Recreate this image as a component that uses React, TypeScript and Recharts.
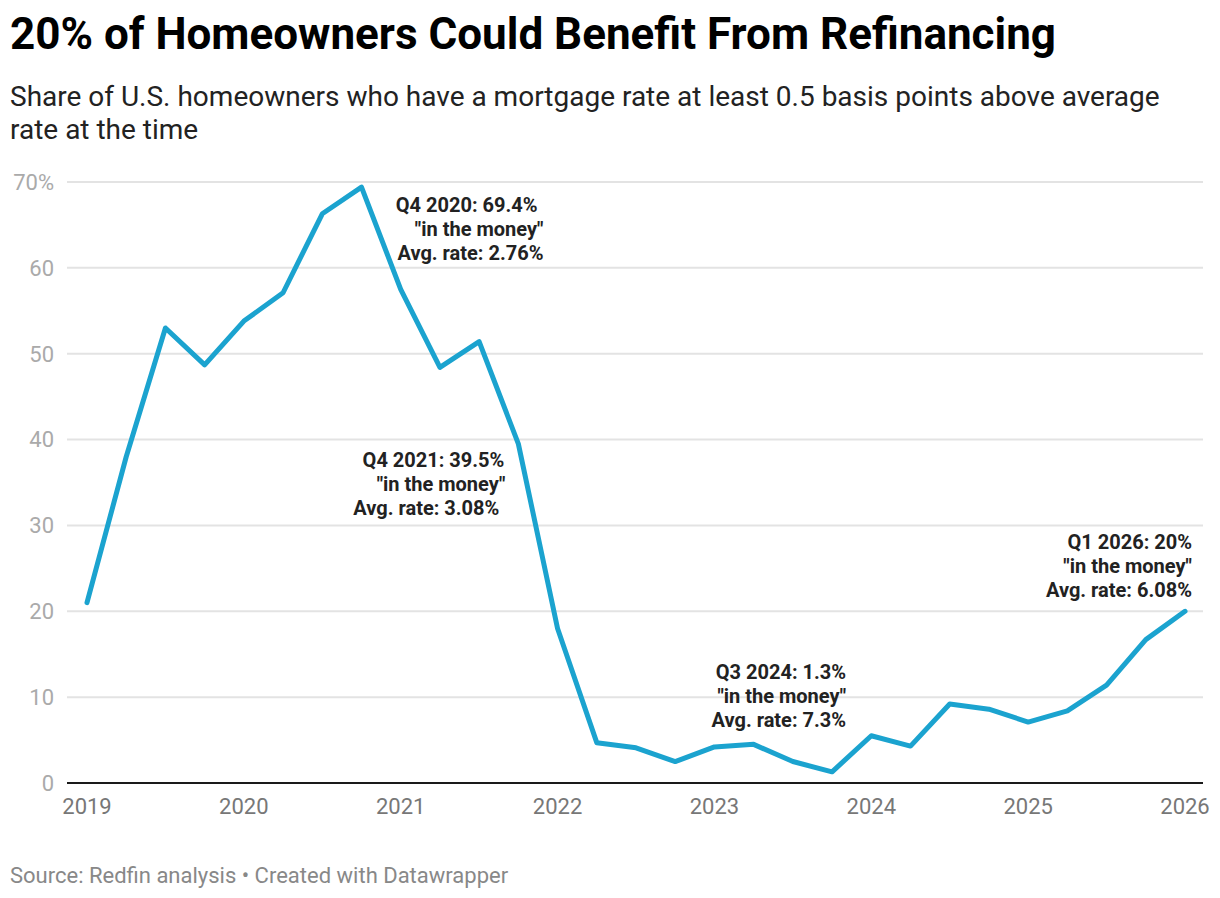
import React from 'react'
import {
  LineChart,
  Line,
  XAxis,
  YAxis,
  CartesianGrid,
  ReferenceDot,
} from 'recharts'

// quarterly share of homeowners "in the money" (%)
const quarters = [
  'Q1 2019', 'Q2 2019', 'Q3 2019', 'Q4 2019',
  'Q1 2020', 'Q2 2020', 'Q3 2020', 'Q4 2020',
  'Q1 2021', 'Q2 2021', 'Q3 2021', 'Q4 2021',
  'Q1 2022', 'Q2 2022', 'Q3 2022', 'Q4 2022',
  'Q1 2023', 'Q2 2023', 'Q3 2023', 'Q4 2023',
  'Q1 2024', 'Q2 2024', 'Q3 2024', 'Q4 2024',
  'Q1 2025', 'Q2 2025', 'Q3 2025', 'Q4 2025',
  'Q1 2026',
]
const shares = [
  21.0, 38.0, 53.0, 48.7,
  53.8, 57.1, 66.3, 69.4,
  57.5, 48.4, 51.4, 39.5,
  18.0, 4.7, 4.1, 2.5,
  4.2, 4.5, 2.5, 1.3,
  5.5, 4.3, 9.2, 8.6,
  7.1, 8.4, 11.4, 16.7,
  20.0,
]
const yearTicks = [2019, 2020, 2021, 2022, 2023, 2024, 2025, 2026]
const shareTicks = [0, 10, 20, 30, 40, 50, 60, 70]

// annotation text, anchored to a quarter
const notes = [
  { at: 'Q4 2020', lines: ['Q4 2020: 69.4%', '"in the money"', 'Avg. rate: 2.76%'] },
  { at: 'Q4 2021', lines: ['Q4 2021: 39.5%', '"in the money"', 'Avg. rate: 3.08%'] },
  { at: 'Q4 2023', lines: ['Q3 2024: 1.3%', '"in the money"', 'Avg. rate: 7.3%'] },
  { at: 'Q1 2026', lines: ['Q1 2026: 20%', '"in the money"', 'Avg. rate: 6.08%'] },
]

function toYear(q: string) {
  const [qq, yy] = q.split(' ')
  return Number(yy) + (Number(qq.slice(1)) - 1) / 4
}

const data = quarters.map((q, i) => ({ q, x: toYear(q), share: shares[i] }))

// label placement relative to the anchored point (px)
const noteOffsets: Record<string, { dx: number[]; dy: number[] }> = {
  'Q4 2020': { dx: [176, 182, 182], dy: [25, 49, 73] },
  'Q4 2021': { dx: [-14, -13, -19], dy: [23, 47, 71] },
  'Q4 2023': { dx: [14, 14, 14], dy: [-93, -69, -45] },
  'Q1 2026': { dx: [7, 7, 7], dy: [-62, -38, -14] },
}

const font = 'Roboto, "Noto Sans", sans-serif'

export default function App() {
  return (
    <div
      style={{
        position: 'absolute',
        left: 0,
        top: 0,
        width: 1220,
        height: 898,
        background: '#fff',
        fontFamily: font,
        overflow: 'hidden',
      }}
    >
      <div
        style={{
          position: 'absolute',
          left: 10,
          top: 8,
          fontSize: 44,
          lineHeight: '52px',
          fontWeight: 700,
          color: '#000',
          whiteSpace: 'nowrap',
        }}
      >
        20% of Homeowners Could Benefit From Refinancing
      </div>
      <div
        style={{
          position: 'absolute',
          left: 10,
          top: 80,
          width: 1190,
          fontSize: 28,
          lineHeight: '33px',
          color: '#222',
        }}
      >
        Share of U.S. homeowners who have a mortgage rate at least 0.5 basis points above average
        rate at the time
      </div>

      <div style={{ position: 'absolute', left: 0, top: 0 }}>
        <LineChart
          width={1220}
          height={898}
          data={data}
          margin={{ top: 182, right: 17, bottom: 75, left: 0 }}
        >
          <CartesianGrid vertical={false} stroke="#e3e3e3" strokeWidth={2} />
          <XAxis
            dataKey="x"
            type="number"
            domain={[2019, 2026]}
            ticks={yearTicks}
            padding={{ left: 20, right: 18 }}
            height={40}
            tickSize={0}
            tickMargin={15}
            axisLine={{ stroke: '#1a1a1a', strokeWidth: 2 }}
            tickLine={false}
            tick={{ fill: '#777', fontSize: 22, fontFamily: font }}
          />
          <YAxis
            type="number"
            domain={[0, 70]}
            ticks={shareTicks}
            width={67}
            tickSize={0}
            tickMargin={13}
            axisLine={false}
            tickLine={false}
            tickFormatter={(v: number) => (v === 70 ? '70%' : String(v))}
            tick={{ fill: '#aaa', fontSize: 22, fontFamily: font }}
          />
          <Line
            dataKey="share"
            stroke="#1ba3cf"
            strokeWidth={5}
            strokeLinejoin="round"
            strokeLinecap="round"
            dot={false}
            activeDot={false}
            isAnimationActive={false}
          />
          {notes.map((n) => {
            const d = data.find((p) => p.q === n.at)!
            const off = noteOffsets[n.at]
            return (
              <ReferenceDot
                key={n.at}
                x={d.x}
                y={d.share}
                r={0}
                shape={(props: any) => (
                  <g>
                    {n.lines.map((line, i) => (
                      <text
                        key={i}
                        x={props.cx + off.dx[i]}
                        y={props.cy + off.dy[i]}
                        textAnchor="end"
                        fontSize={20}
                        fontWeight={700}
                        fontFamily={font}
                        fill="#222"
                      >
                        {line}
                      </text>
                    ))}
                  </g>
                )}
              />
            )
          })}
        </LineChart>
      </div>

      <div
        style={{
          position: 'absolute',
          left: 10,
          top: 863,
          fontSize: 22,
          lineHeight: '26px',
          color: '#888',
          whiteSpace: 'nowrap',
        }}
      >
        Source: Redfin analysis • Created with Datawrapper
      </div>
    </div>
  )
}
